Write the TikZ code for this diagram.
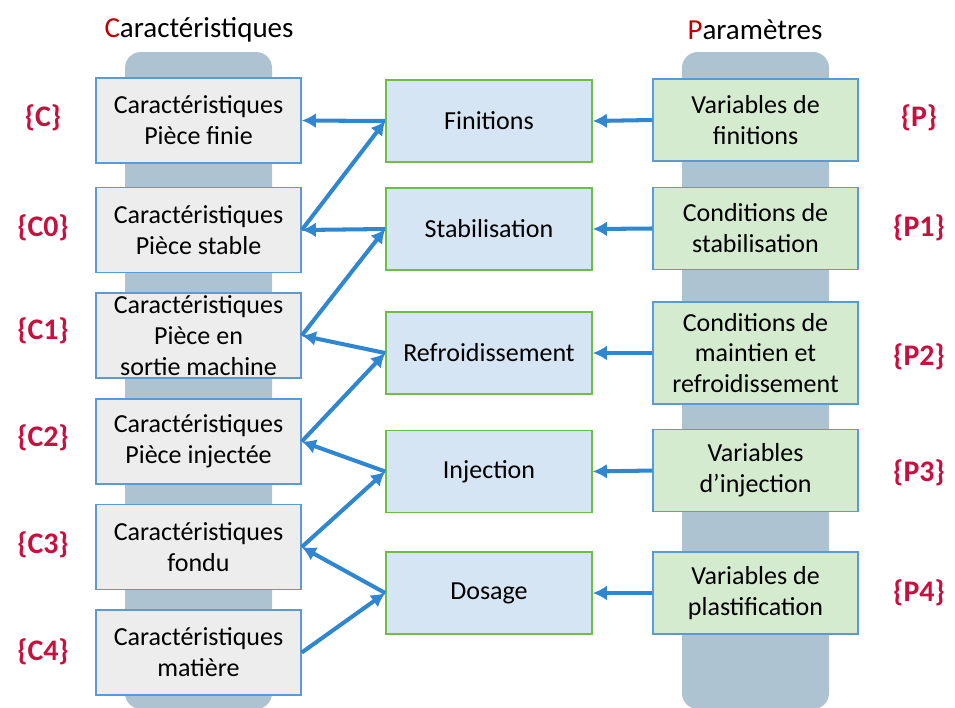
\documentclass[tikz,border=0pt]{standalone}
\usepackage{fontspec}
\setmainfont{Carlito}
\usetikzlibrary{arrows.meta}
\definecolor{bordbleu}{HTML}{5B9BD5}
\definecolor{bordvert}{HTML}{6DBE45}
\definecolor{fondgris}{HTML}{EDEDED}
\definecolor{fondbleu}{HTML}{D5E5F3}
\definecolor{fondvert}{HTML}{D5EBCF}
\definecolor{pilier}{HTML}{ADC3D2}
\definecolor{fleche}{HTML}{2F86D1}
\definecolor{rouge}{HTML}{C00000}
\definecolor{rose}{HTML}{C8103E}

\begin{document}
\begin{tikzpicture}[x=0.02cm,y=-0.02cm]
    \tikzset{
        carac/.style={draw=bordbleu,line width=0.9pt,fill=fondgris,minimum width=4.1cm,
            minimum height=1.7cm,inner sep=0pt,align=center,font=\fontsize{14.8}{17.6}\selectfont},
        etape/.style={draw=bordvert,line width=0.9pt,fill=fondbleu,minimum width=4.12cm,
            minimum height=1.64cm,inner sep=0pt,align=center,font=\fontsize{14.8}{17.6}\selectfont},
        param/.style={draw=bordbleu,line width=0.9pt,fill=fondvert,minimum width=4.1cm,
            minimum height=1.64cm,inner sep=0pt,align=center,font=\fontsize{14.8}{17.6}\selectfont},
        ensemble/.style={text=rose,font=\fontsize{17}{20}\selectfont\bfseries},
        titre/.style={font=\fontsize{16.5}{20}\selectfont},
        flux/.style={draw=fleche,line width=2.3pt,-{Latex[length=8pt,width=8.5pt]}}
    }

    \useasboundingbox (0,0) rectangle (955,707);

    % piliers
    \fill[pilier,rounded corners=9pt] (125,52) rectangle (272,709);
    \fill[pilier,rounded corners=9pt] (682,52) rectangle (829,709);

    \node[titre] (tc) at (199,30) {\textcolor{rouge}{C}aractéristiques};
    \node[titre] (tp) at (755,30) {\textcolor{rouge}{P}aramètres};

    % caracteristiques
    \node[carac] (c) at (198.5,120.5) {Caractéristiques\\Pièce finie};
    \node[carac] (c0) at (198.5,230) {Caractéristiques\\Pièce stable};
    \node[carac] (c1) at (198.5,335.5) {Caractéristiques\\Pièce en\\sortie machine};
    \node[carac] (c2) at (198.5,441.5) {Caractéristiques\\Pièce injectée};
    \node[carac] (c3) at (198.5,547) {Caractéristiques\\fondu};
    \node[carac] (c4) at (198.5,652.5) {Caractéristiques\\matière};

    % etapes
    \node[etape] (fin) at (489,121) {Finitions};
    \node[etape] (stab) at (489,229) {Stabilisation};
    \node[etape] (refr) at (489,353) {Refroidissement};
    \node[etape] (inj) at (489,471.5) {Injection};
    \node[etape] (dos) at (489,593) {Dosage};

    % parametres
    \node[param] (p) at (755.5,120) {Variables de\\finitions};
    \node[param] (p1) at (755.5,228.5) {Conditions de\\stabilisation};
    \node[param,minimum height=2.04cm] (p2) at (755.5,353) {Conditions de\\maintien et\\refroidissement};
    \node[param] (p3) at (755.5,470.5) {Variables\\d’injection};
    \node[param] (p4) at (755.5,593) {Variables de\\plastification};

    \node[ensemble] (ec) at (43,118) {\{C\}};
    \node[ensemble] (ec0) at (43,228) {\{C0\}};
    \node[ensemble] (ec1) at (43,331) {\{C1\}};
    \node[ensemble] (ec2) at (43,438) {\{C2\}};
    \node[ensemble] (ec3) at (43,545) {\{C3\}};
    \node[ensemble] (ec4) at (43,652) {\{C4\}};
    \node[ensemble] (ep) at (919,118) {\{P\}};
    \node[ensemble] (ep1) at (919,228) {\{P1\}};
    \node[ensemble] (ep2) at (919,357) {\{P2\}};
    \node[ensemble] (ep3) at (919,473) {\{P3\}};
    \node[ensemble] (ep4) at (919,593) {\{P4\}};

    \foreach \e/\p/\sortie/\entree in {fin/p/c/c0, stab/p1/c0/c1, refr/p2/c1/c2, inj/p3/c2/c3, dos/p4/c3/c4} {
        \draw[flux] (\p.west) -- (\e.east);
        \draw[flux] (\e.west) -- (\sortie.east);
        \draw[flux] (\entree.east) -- (\e.west);
    }
\end{tikzpicture}
\end{document}
